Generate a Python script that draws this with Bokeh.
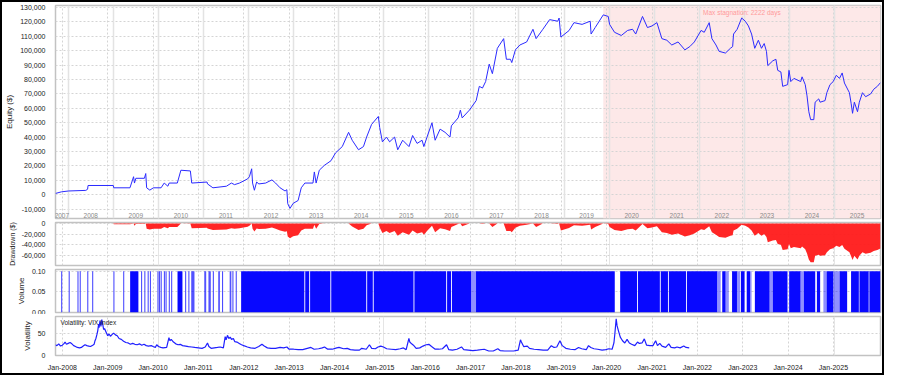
import numpy as np
from bokeh.plotting import figure
from bokeh.layouts import column
from bokeh.models import (Range1d, FixedTicker, Grid, LinearAxis, NumeralTickFormatter,
                          BoxAnnotation, Label)
from bokeh.embed import file_html
from bokeh.resources import INLINE
from bokeh.core.properties import value

FONT = "Liberation Sans"

# Panels share a trading-time axis (years); the date axis underneath is calendar time.
T_START, T_END = 2007.718, 2026.02
C_START, C_END = 2007.849, 2026.037

# ---------------- data ----------------
eq_t = [2007.72, 2007.85, 2008.01, 2008.39, 2008.43, 2008.44, 2009.00, 2009.01, 2009.37, 2009.45,
        2009.47, 2009.50, 2009.69, 2009.72, 2009.74, 2009.81, 2009.89, 2010.06, 2010.13, 2010.21,
        2010.24, 2010.42, 2010.50, 2010.71, 2010.74, 2011.08, 2011.09, 2011.21, 2011.51, 2011.62,
        2011.69, 2011.80, 2011.98, 2012.02, 2012.07, 2012.09, 2012.13, 2012.18, 2012.23, 2012.38,
        2012.52, 2012.60, 2012.70, 2012.81, 2012.85, 2012.87, 2012.92, 2012.99, 2013.10, 2013.17,
        2013.25, 2013.43, 2013.46, 2013.50, 2013.57, 2013.68, 2013.83, 2013.93, 2014.08, 2014.22,
        2014.30, 2014.44, 2014.55, 2014.62, 2014.73, 2014.88, 2014.91, 2014.97, 2015.06, 2015.13,
        2015.24, 2015.31, 2015.42, 2015.56, 2015.64, 2015.74, 2015.85, 2015.89, 2015.96, 2016.07,
        2016.14, 2016.25, 2016.36, 2016.47, 2016.50, 2016.65, 2016.70, 2016.74, 2016.90, 2017.05,
        2017.12, 2017.19, 2017.26, 2017.34, 2017.41, 2017.52, 2017.66, 2017.72, 2017.81, 2017.84,
        2017.92, 2018.02, 2018.17, 2018.31, 2018.38, 2018.53, 2018.68, 2018.86, 2018.89, 2018.93,
        2019.11, 2019.22, 2019.40, 2019.58, 2019.60, 2019.69, 2019.87, 2019.98, 2020.01, 2020.12,
        2020.27, 2020.41, 2020.52, 2020.59, 2020.74, 2020.85, 2020.95, 2021.06, 2021.17, 2021.28,
        2021.39, 2021.53, 2021.68, 2021.79, 2021.89, 2022.04, 2022.11, 2022.22, 2022.28, 2022.37,
        2022.44, 2022.58, 2022.69, 2022.74, 2022.76, 2022.84, 2022.94, 2023.02, 2023.09, 2023.16,
        2023.23, 2023.31, 2023.38, 2023.44, 2023.49, 2023.52, 2023.63, 2023.70, 2023.74, 2023.81,
        2023.85, 2023.96, 2023.99, 2024.03, 2024.10, 2024.25, 2024.28, 2024.35, 2024.39, 2024.43,
        2024.47, 2024.54, 2024.57, 2024.65, 2024.68, 2024.79, 2024.83, 2024.90, 2024.97, 2025.04,
        2025.11, 2025.17, 2025.22, 2025.33, 2025.37, 2025.40, 2025.44, 2025.51, 2025.55, 2025.62,
        2025.69, 2025.80, 2025.87, 2025.95, 2026.02]
eq_v = [900, 2000, 2600, 3000, 3800, 6400, 6400, 4800, 4800, 12500,
        8100, 11400, 11400, 14700, 4800, 3200, 4800, 4800, 8100, 5900,
        8100, 8100, 17000, 16500, 8100, 8800, 7500, 4800, 5900, 8100,
        7000, 8100, 11000, 12500, 18000, 8100, 3100, 8800, 7500, 8100,
        10300, 8100, 4800, 2600, 3500, -6200, -9500, -6000, -4000, 4800,
        8100, 8100, 15800, 8100, 17000, 20300, 23600, 29000, 33400, 43300,
        37800, 31200, 33400, 40000, 48800, 54300, 46600, 36700, 40000, 36700,
        40000, 31200, 37800, 33400, 41100, 35600, 37800, 33400, 40000, 49900,
        37800, 45500, 43300, 40000, 47800, 53300, 58700, 53300, 58700, 65300,
        75200, 74000, 78500, 90600, 84000, 101600, 108300, 94000, 94000, 91700,
        100500, 103900, 106000, 114800, 108300, 114800, 121500, 120400, 122600, 109400,
        113900, 119400, 118200, 120400, 111500, 116000, 124800, 123700, 118200, 112700,
        110500, 114000, 114800, 111500, 123700, 116000, 117100, 119400, 108300, 107200,
        103900, 106000, 100500, 102800, 106000, 114000, 112700, 119400, 108300, 103900,
        99500, 98300, 101600, 102800, 111500, 114800, 122600, 120400, 117100, 111500,
        101600, 107200, 101600, 104900, 99500, 89600, 92900, 94000, 86300, 85200,
        75200, 76400, 86300, 78500, 80700, 78500, 81800, 76400, 68600, 57600,
        52100, 52100, 64200, 66500, 64200, 65300, 70800, 76400, 78500, 82900,
        80700, 84500, 77500, 70800, 63100, 56500, 64200, 57600, 64200, 70800,
        68000, 69900, 73200, 75200, 77800]

stagnation_days = 2222

year_bounds = list(range(2008, 2026))
year_names = [str(y) for y in range(2007, 2026)]
jan_years = list(range(2008, 2026))
jan_labels = ["Jan-%d" % y for y in jan_years]

eq_ticks = list(range(-10000, 130001, 10000))
dd_ticks = [-60000, -40000, -20000, 0]
vol_ticks = [0.0, 0.05, 0.10]
vix_ticks = [0, 50]

vol_level = 0.10
vol_single = [2007.855, 2008.022, 2008.217, 2008.267, 2008.434, 2008.543, 2009.014, 2009.231,
              2009.628, 2009.700, 2009.774, 2009.824, 2009.991, 2010.026, 2010.063, 2010.134,
              2010.171, 2010.243, 2010.295, 2010.605, 2010.677, 2011.220, 2011.424, 2011.654,
              2011.728]
vol_blocks = [
    (2009.374, 2009.557, 1.0), (2010.425, 2010.534, 1.0), (2010.729, 2010.801, 0.7),
    (2011.018, 2011.061, 0.7), (2011.111, 2011.163, 0.7), (2011.328, 2011.365, 0.7),
    (2011.582, 2011.619, 0.7), (2011.836, 2013.238, 1.0), (2013.258, 2013.346, 1.0),
    (2013.366, 2013.815, 1.0), (2013.835, 2014.612, 1.0), (2014.632, 2014.757, 1.0),
    (2014.777, 2015.660, 1.0), (2015.680, 2016.385, 1.0), (2016.405, 2016.494, 1.0),
    (2016.514, 2016.938, 1.0), (2016.938, 2017.047, 0.45), (2017.047, 2020.125, 1.0),
    (2020.245, 2020.619, 1.0), (2020.639, 2021.125, 1.0), (2021.145, 2021.305, 1.0),
    (2021.325, 2021.705, 1.0), (2021.725, 2022.395, 1.0), (2022.395, 2022.475, 0.45),
    (2022.509, 2022.583, 1.0), (2022.583, 2022.655, 0.45), (2022.727, 2022.836, 1.0),
    (2022.836, 2022.909, 0.45), (2022.925, 2023.005, 1.0), (2023.052, 2023.126, 1.0),
    (2023.126, 2023.160, 0.45), (2023.233, 2023.559, 1.0), (2023.559, 2023.631, 0.45),
    (2023.631, 2023.957, 1.0), (2023.994, 2024.246, 1.0), (2024.246, 2024.320, 0.45),
    (2024.320, 2024.572, 1.0), (2024.609, 2024.681, 1.0), (2024.753, 2024.825, 0.45),
    (2024.825, 2024.970, 1.0), (2024.970, 2025.113, 0.45), (2025.113, 2025.280, 1.0),
    (2025.367, 2025.539, 1.0), (2025.539, 2025.559, 0.45), (2025.559, 2025.756, 1.0),
    (2025.756, 2025.776, 0.45), (2025.776, 2026.020, 1.0),
]

# VIX index (calendar years, index points)
vix = [
    (2007.85, 24), (2007.88, 22), (2007.92, 26), (2007.96, 21), (2008.00, 23), (2008.04, 27),
    (2008.06, 30), (2008.09, 25), (2008.13, 27), (2008.17, 29), (2008.21, 26), (2008.25, 22),
    (2008.29, 20), (2008.33, 18), (2008.38, 17), (2008.42, 18), (2008.46, 21), (2008.50, 24),
    (2008.54, 22), (2008.58, 21), (2008.62, 20), (2008.67, 23), (2008.70, 25), (2008.72, 33),
    (2008.74, 38), (2008.76, 46), (2008.78, 55), (2008.80, 70), (2008.81, 62), (2008.83, 78),
    (2008.85, 65), (2008.87, 80), (2008.89, 70), (2008.91, 58), (2008.93, 60), (2008.96, 53),
    (2009.00, 44), (2009.03, 48), (2009.06, 43), (2009.10, 47), (2009.13, 50), (2009.17, 46),
    (2009.21, 44), (2009.25, 38), (2009.30, 36), (2009.35, 32), (2009.40, 29), (2009.45, 28),
    (2009.50, 25), (2009.55, 27), (2009.60, 25), (2009.65, 24), (2009.70, 26), (2009.75, 23),
    (2009.80, 25), (2009.85, 22), (2009.90, 21), (2009.96, 22), (2010.00, 20), (2010.05, 18),
    (2010.08, 24), (2010.12, 20), (2010.17, 18), (2010.22, 17), (2010.30, 18), (2010.35, 40),
    (2010.37, 33), (2010.40, 36), (2010.45, 30), (2010.50, 26), (2010.55, 24), (2010.60, 25),
    (2010.65, 22), (2010.72, 21), (2010.78, 20), (2010.85, 19), (2010.92, 18), (2011.00, 17),
    (2011.08, 16), (2011.15, 19), (2011.20, 28), (2011.23, 20), (2011.28, 16), (2011.35, 17),
    (2011.42, 18), (2011.48, 19), (2011.55, 17), (2011.59, 42), (2011.61, 35), (2011.64, 45),
    (2011.67, 38), (2011.70, 41), (2011.73, 36), (2011.77, 38), (2011.80, 31), (2011.85, 30),
    (2011.90, 27), (2011.95, 24), (2012.00, 22), (2012.08, 19), (2012.15, 17), (2012.25, 16),
    (2012.33, 20), (2012.40, 25), (2012.45, 21), (2012.52, 17), (2012.60, 16), (2012.70, 16),
    (2012.80, 18), (2012.88, 17), (2012.95, 19), (2013.00, 14), (2013.10, 14), (2013.20, 13),
    (2013.30, 13), (2013.40, 16), (2013.48, 18), (2013.55, 14), (2013.65, 15), (2013.73, 17),
    (2013.78, 19), (2013.85, 14), (2013.95, 14), (2014.05, 17), (2014.10, 18), (2014.20, 15),
    (2014.28, 16), (2014.35, 13), (2014.45, 12), (2014.55, 12), (2014.60, 16), (2014.70, 14),
    (2014.77, 24), (2014.82, 16), (2014.90, 15), (2014.96, 19), (2015.02, 21), (2015.08, 19),
    (2015.15, 15), (2015.25, 14), (2015.35, 13), (2015.45, 15), (2015.52, 17), (2015.58, 13),
    (2015.64, 38), (2015.66, 30), (2015.70, 26), (2015.74, 23), (2015.80, 16), (2015.88, 17),
    (2015.95, 21), (2016.02, 24), (2016.08, 25), (2016.14, 20), (2016.22, 14), (2016.30, 14),
    (2016.38, 15), (2016.47, 24), (2016.52, 13), (2016.60, 12), (2016.70, 14), (2016.80, 19),
    (2016.85, 13), (2016.95, 12), (2017.05, 11), (2017.15, 12), (2017.30, 14), (2017.40, 10),
    (2017.50, 10), (2017.60, 15), (2017.65, 11), (2017.75, 10), (2017.85, 10), (2017.95, 10),
    (2018.05, 12), (2018.10, 35), (2018.12, 30), (2018.17, 20), (2018.25, 21), (2018.30, 16),
    (2018.40, 14), (2018.50, 13), (2018.60, 12), (2018.70, 12), (2018.78, 22), (2018.84, 18),
    (2018.90, 19), (2018.97, 33), (2019.02, 22), (2019.10, 16), (2019.20, 14), (2019.30, 13),
    (2019.38, 18), (2019.45, 15), (2019.55, 13), (2019.60, 22), (2019.65, 18), (2019.72, 15),
    (2019.80, 14), (2019.90, 12), (2019.98, 13), (2020.05, 15), (2020.12, 14), (2020.16, 28),
    (2020.18, 48), (2020.21, 82), (2020.23, 66), (2020.26, 55), (2020.30, 41), (2020.35, 33),
    (2020.40, 28), (2020.45, 36), (2020.50, 28), (2020.55, 25), (2020.62, 22), (2020.68, 30),
    (2020.72, 27), (2020.78, 28), (2020.83, 37), (2020.88, 23), (2020.95, 22), (2021.02, 22),
    (2021.08, 33), (2021.12, 22), (2021.17, 27), (2021.22, 21), (2021.30, 18), (2021.37, 26),
    (2021.42, 18), (2021.50, 17), (2021.55, 19), (2021.62, 17), (2021.70, 21), (2021.75, 18),
    (2021.82, 17),
]

# ---------------- figures ----------------
W = 880
TXT = "#222222"
GRID = "#d4d4d4"


def base(h, top, bottom, y0, y1, ticks, fmt, label, label_size="8px"):
    p = figure(width=W, height=h, x_range=Range1d(T_START, T_END), y_range=Range1d(y0, y1),
               x_axis_location=None, output_backend="svg", toolbar_location=None,
               min_border_left=44, min_border_right=2, min_border_top=top,
               min_border_bottom=bottom, background_fill_color="white",
               border_fill_color="white")
    p.extra_x_ranges = {"cal": Range1d(C_START, C_END)}
    p.outline_line_color = "#c2c2c2"
    p.outline_line_width = 1.5
    p.ygrid.grid_line_color = None
    ax = p.yaxis[0]
    ax.ticker = FixedTicker(ticks=ticks)
    ax.formatter = NumeralTickFormatter(format=fmt)
    ax.axis_label = label
    ax.axis_line_color = None
    ax.major_tick_line_color = None
    ax.minor_tick_line_color = None
    ax.major_label_text_font = FONT
    ax.major_label_text_font_size = "7px"
    ax.major_label_text_color = TXT
    ax.major_label_standoff = 4
    ax.axis_label_text_font = FONT
    ax.axis_label_text_font_size = label_size
    ax.axis_label_text_font_style = "normal"
    ax.axis_label_text_color = TXT
    ax.axis_label_standoff = 3
    return p


def add_grids(p, yticks):
    p.add_layout(Grid(dimension=1, ticker=FixedTicker(ticks=yticks),
                      grid_line_color=GRID, grid_line_dash="2 2"))
    p.add_layout(Grid(dimension=0, ticker=FixedTicker(ticks=jan_years), x_range_name="cal",
                      grid_line_color=GRID, grid_line_dash="2 2"))


# Equity panel
EQ_Y0, EQ_Y1 = -16500, 131300
p1 = base(218, 3, 2, EQ_Y0, EQ_Y1, eq_ticks, "0,0", "Equity ($)")
stag_start = eq_t[int(np.argmax(eq_v))]
p1.add_layout(BoxAnnotation(left=stag_start, fill_color="#fde8e8", fill_alpha=1.0,
                            line_color=None, level="underlay"))
add_grids(p1, eq_ticks)
p1.add_layout(Grid(dimension=0, ticker=FixedTicker(ticks=year_bounds),
                   grid_line_color="#e3e3e3", grid_line_width=1.5))
yl_x = [(max(y, T_START) + min(y + 1, T_END)) / 2 for y in range(2007, 2026)]
p1.text(x=yl_x, y=[EQ_Y0] * len(yl_x), text=year_names, text_align="center",
        text_baseline="bottom", y_offset=-1, text_font=value(FONT),
        text_font_size="6.5px", text_color="#8a8a8a")
p1.line(eq_t, eq_v, line_color="#2b2bff", line_width=1.0)
p1.add_layout(Label(x=(stag_start + T_END) / 2, y=EQ_Y1, y_offset=-3,
                    text="Max stagnation: %d days" % stagnation_days,
                    text_align="center", text_baseline="top", text_font=FONT,
                    text_font_size="6.5px", text_color="#ff9a9a"))

# Drawdown panel (equity minus its running peak)
eq_arr = np.array(eq_v, dtype=float)
dd = eq_arr - np.maximum.accumulate(eq_arr)
p2 = base(47, 2, 2, -78600, 1800, dd_ticks, "0,0", "Drawdown ($)", label_size="7px")
add_grids(p2, dd_ticks)
p2.varea(x=eq_t, y1=dd, y2=0, fill_color="#ff1a1a", fill_alpha=0.95)

# Volume panel
p3 = base(47, 2, 2, 0, 0.104, vol_ticks, "0.00", "Volume")
add_grids(p3, vol_ticks)
vl = [b[0] for b in vol_blocks]
vr = [b[1] for b in vol_blocks]
vs = [b[2] for b in vol_blocks]
p3.quad(left=vl, right=vr, bottom=0, top=[vol_level] * len(vl), fill_color="#0808ff",
        fill_alpha=vs, line_color=None)
p3.vbar(x=vol_single, width=0.024, top=vol_level, bottom=0, fill_color="#4a4aff",
        line_color=None)

# Volatility panel
p4 = base(59, 2, 14, 0, 87, vix_ticks, "0", "Volatility")
add_grids(p4, vix_ticks)
p4.line([a for a, b in vix], [b for a, b in vix], x_range_name="cal",
        line_color="#1f1fff", line_width=1.2)
p4.add_layout(Label(x=T_START, y=87, x_offset=5, y_offset=-2, text="Volatility: VIX Index",
                    text_baseline="top", text_font=FONT, text_font_size="6.5px",
                    text_color=TXT))
xaxis = LinearAxis(x_range_name="cal", ticker=FixedTicker(ticks=jan_years),
                   major_label_overrides=dict(zip(jan_years, jan_labels)))
xaxis.axis_line_color = None
xaxis.major_tick_line_color = None
xaxis.minor_tick_line_color = None
xaxis.major_label_standoff = 2
xaxis.major_label_text_font = FONT
xaxis.major_label_text_font_size = "7px"
xaxis.major_label_text_color = TXT
p4.add_layout(xaxis, "below")

layout = column(p1, p2, p3, p4, spacing=0, styles={"border": "2px solid #000000"})

with open("out.html", "w") as f:
    f.write(file_html(layout, INLINE))
